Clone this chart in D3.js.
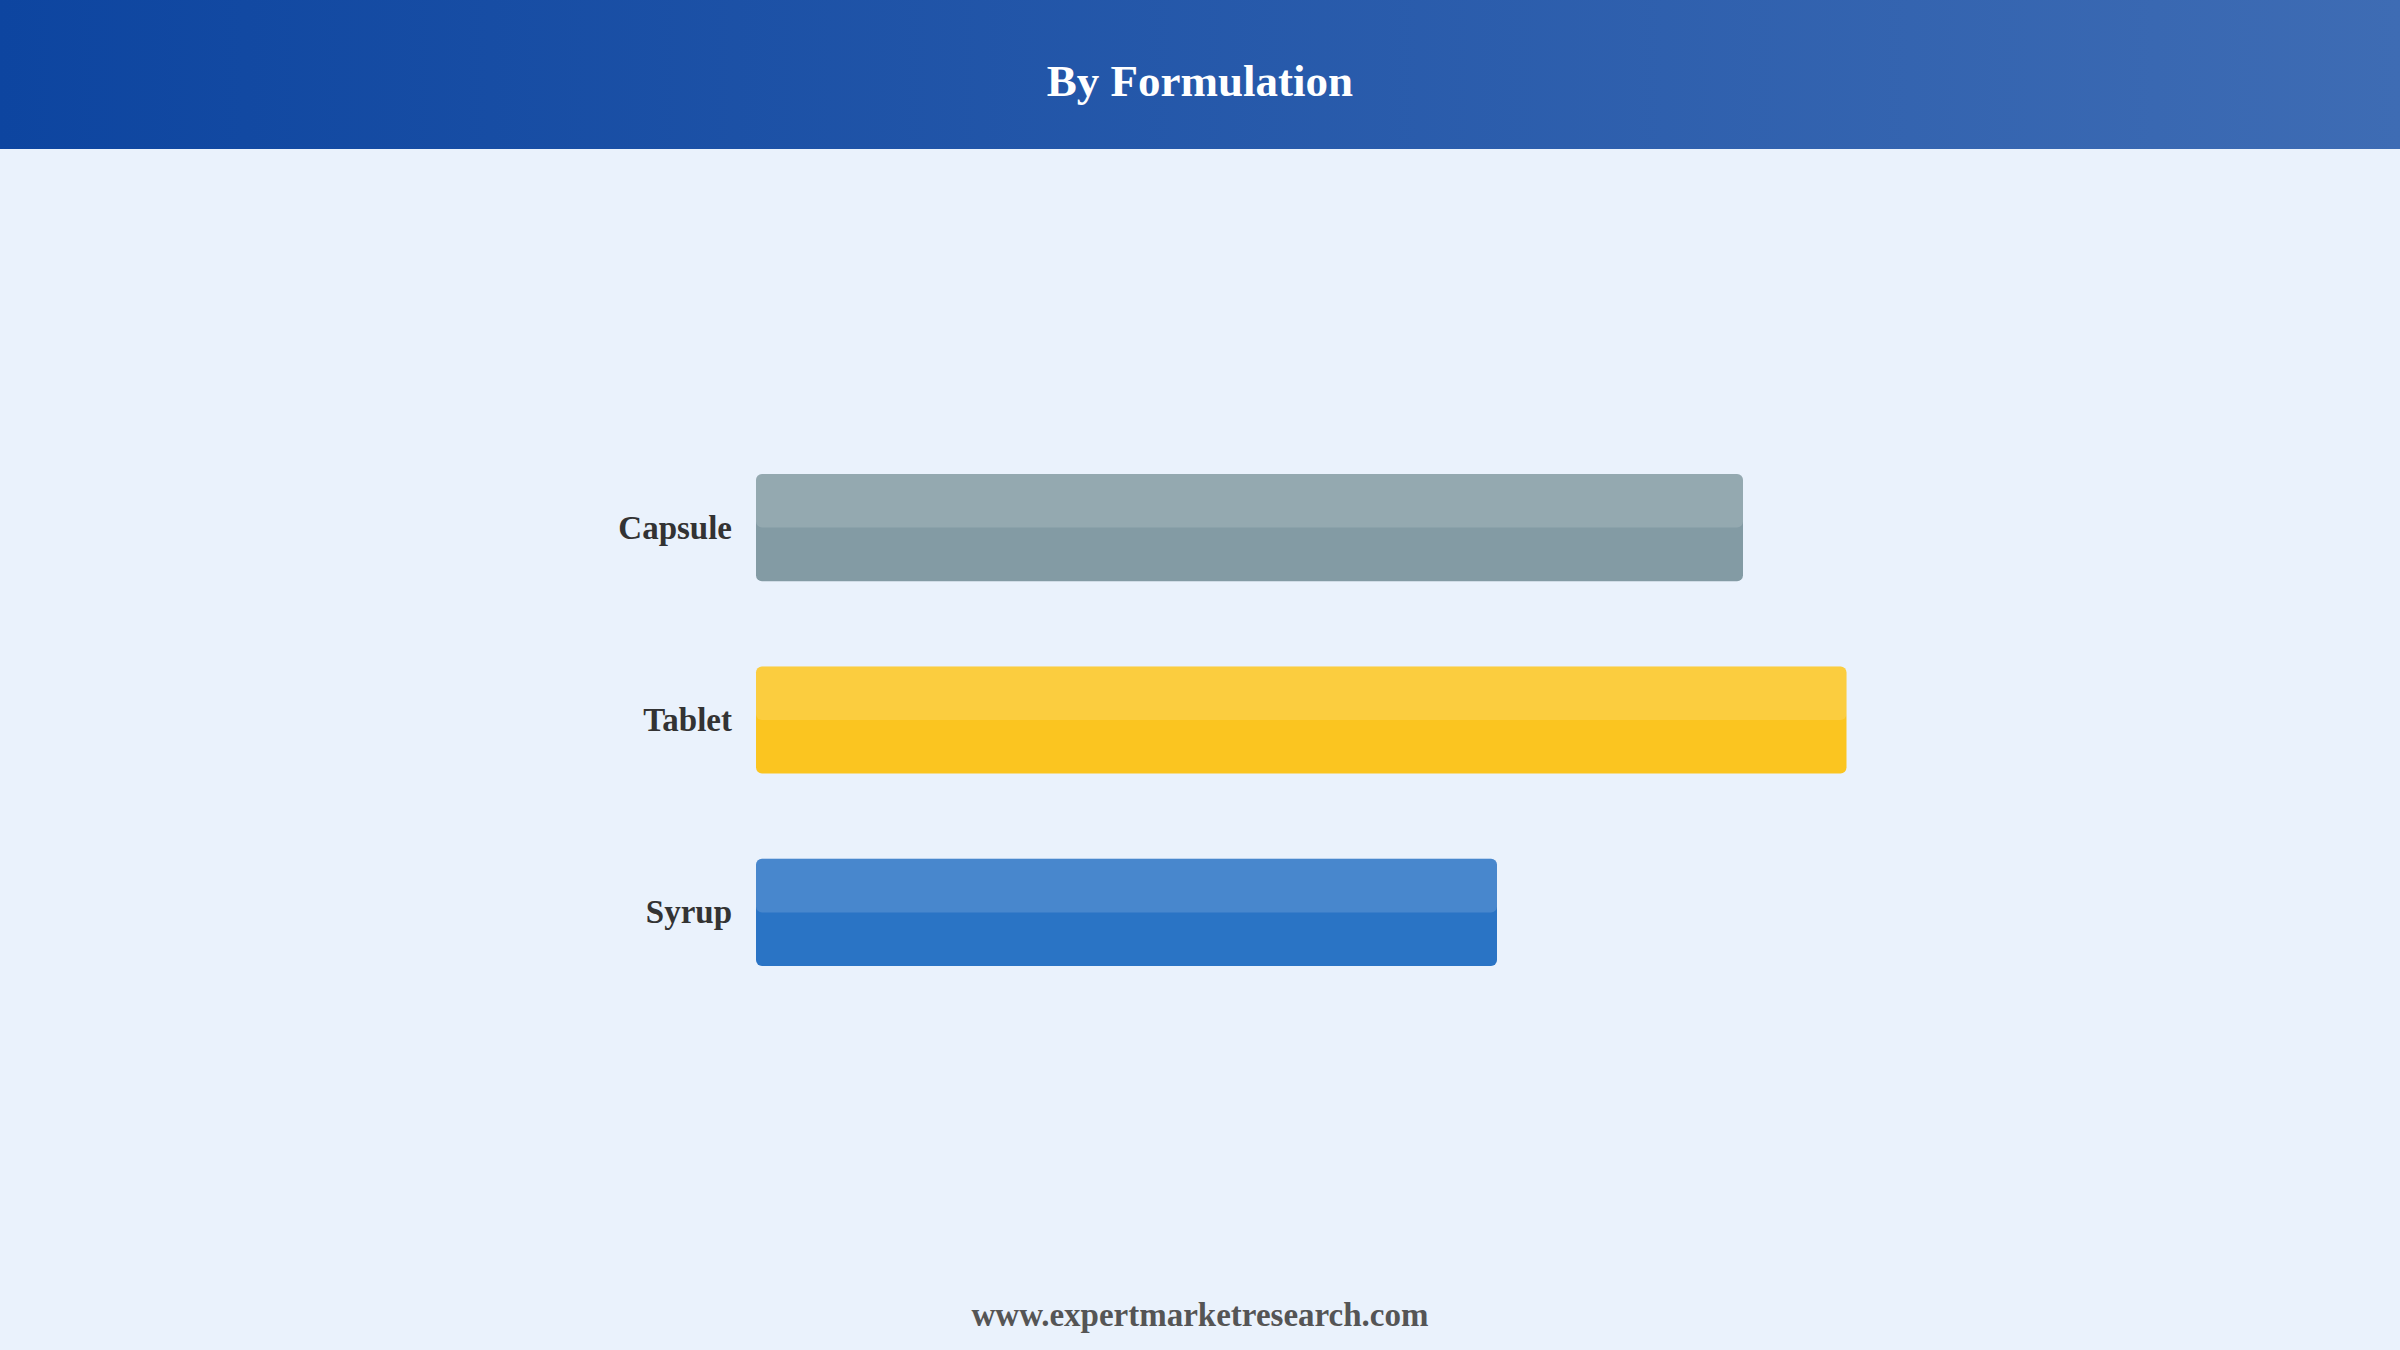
<!DOCTYPE html>
<html>
<head>
<meta charset="utf-8">
<script src="https://cdn.jsdelivr.net/npm/d3@7"></script>
<style>
  html, body { margin: 0; padding: 0; background: #EAF2FC; }
  svg { display: block; }
</style>
</head>
<body>
<svg id="chart"></svg>
<script>
// chart data
var categories = ['Capsule', 'Tablet', 'Syrup'];
var values = [32.9, 36.35, 24.7];
var barColors = ['#839BA4', '#FBC520', '#2A74C5'];

var titleText = 'By Formulation';
var footerText = 'www.expertmarketresearch.com';

var W = 2400, H = 1350;
var headerH = 149;
var font = '"Liberation Serif", "Times New Roman", serif';

var svg = d3.select('#chart')
    .attr('width', W)
    .attr('height', H);

var defs = svg.append('defs');
var grad = defs.append('linearGradient')
    .attr('id', 'headGrad')
    .attr('x1', '0%').attr('x2', '100%')
    .attr('y1', '0%').attr('y2', '0%');
grad.append('stop').attr('offset', '0%').attr('stop-color', '#0D45A0');
grad.append('stop').attr('offset', '100%').attr('stop-color', '#3E6CB4');

svg.append('rect')
    .attr('width', W)
    .attr('height', H)
    .attr('fill', '#EAF2FC');

svg.append('rect')
    .attr('width', W)
    .attr('height', headerH)
    .attr('fill', 'url(#headGrad)');

svg.append('text')
    .text(titleText)
    .attr('x', W / 2)
    .attr('y', 81)
    .attr('text-anchor', 'middle')
    .attr('dominant-baseline', 'central')
    .style('font-family', font)
    .style('font-weight', 'bold')
    .style('font-size', '45px')
    .attr('fill', '#ffffff');

var left = 756;
var x = d3.scaleLinear()
    .domain([0, 40])
    .range([left, left + 1200]);

var y = d3.scaleBand()
    .domain(categories)
    .range([474, 966])
    .paddingInner(0.443)
    .paddingOuter(0);

var bars = svg.append('g')
    .selectAll('g')
    .data(categories)
    .join('g');

bars.append('rect')
    .attr('x', x(0))
    .attr('y', d => y(d))
    .attr('width', (d, i) => x(values[i]) - x(0))
    .attr('height', y.bandwidth())
    .attr('rx', 6)
    .attr('fill', (d, i) => barColors[i]);

// lighter top half
bars.append('rect')
    .attr('x', x(0))
    .attr('y', d => y(d))
    .attr('width', (d, i) => x(values[i]) - x(0))
    .attr('height', y.bandwidth() / 2)
    .attr('rx', 6)
    .attr('fill', '#ffffff')
    .attr('fill-opacity', 0.14);

bars.append('text')
    .text(d => d)
    .attr('x', x(0) - 24)
    .attr('y', d => y(d) + y.bandwidth() / 2)
    .attr('text-anchor', 'end')
    .attr('dominant-baseline', 'central')
    .style('font-family', font)
    .style('font-weight', 'bold')
    .style('font-size', '33px')
    .attr('fill', '#333333');

svg.append('text')
    .text(footerText)
    .attr('x', W / 2)
    .attr('y', 1315)
    .attr('text-anchor', 'middle')
    .attr('dominant-baseline', 'central')
    .style('font-family', font)
    .style('font-weight', 'bold')
    .style('font-size', '33px')
    .attr('fill', '#555555');
</script>
</body>
</html>
